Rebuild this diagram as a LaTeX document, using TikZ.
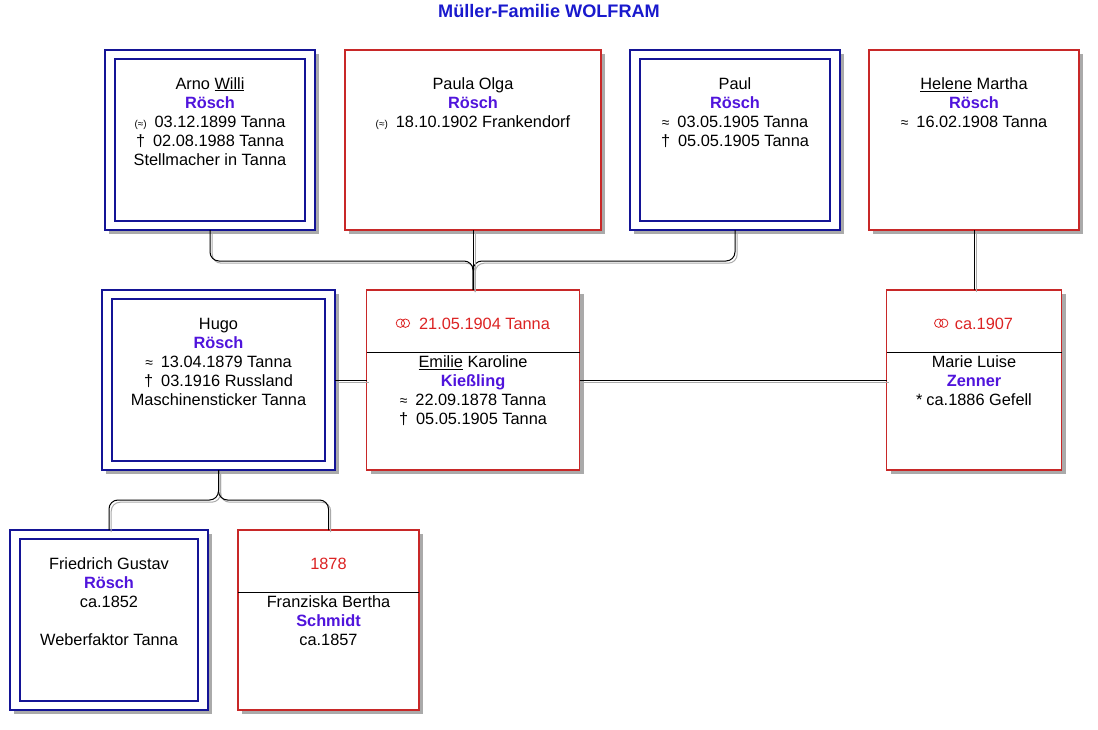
\documentclass[tikz,border=0pt]{standalone}
\usepackage{fontspec}
\setmainfont{Liberation Sans}
\usetikzlibrary{shadows}
\definecolor{boxblue}{RGB}{20,20,150}
\definecolor{boxred}{RGB}{200,40,40}
\definecolor{surname}{RGB}{80,20,220}
\definecolor{titleblue}{RGB}{25,25,205}
\definecolor{marred}{RGB}{220,35,35}
\definecolor{shadowgrey}{RGB}{170,170,170}
\newcommand{\sn}[1]{{\bfseries\color{surname}#1}}
\newcommand{\bap}{{\fontsize{14}{14}\selectfont ≈}\hspace{8bp}}
\newcommand{\dth}{†\hspace{8bp}}
\newcommand{\bth}{{\fontsize{10}{10}\selectfont(≈)}\hspace{8bp}}
\newcommand{\fs}{\rule{0pt}{15bp}}
\begin{document}
\begin{tikzpicture}[x=1bp,y=-1bp,
  box/.style={rectangle, draw, line width=1.2bp, fill=white, inner sep=0pt, outer sep=0pt,
    drop shadow={shadow xshift=4bp, shadow yshift=-4bp, fill=shadowgrey, opacity=1}},
  mbox/.style={box, draw=boxblue,
    path picture={\draw[boxblue, line width=1.2bp]
      ([shift={(10bp,-9bp)}]path picture bounding box.north west) rectangle
      ([shift={(-10bp,9bp)}]path picture bounding box.south east);}},
  fbox/.style={box, draw=boxred},
  txt/.style={anchor=north, align=center, inner sep=0pt, font=\fontsize{16.4}{19.1}\selectfont},
  conn/.style={draw=black, line width=1bp, rounded corners=9bp,
    preaction={draw=shadowgrey, line width=1bp, transform canvas={shift={(2.2bp,-2.2bp)}}}},
  divider/.style={draw=black, line width=1bp},
  wedrings/.pic={\draw[marred, line width=0.8bp] (0,0) circle (4.2bp) (5,0) circle (4.2bp);}
]
\useasboundingbox (0,0) rectangle (1098,730);

\node[font=\bfseries\fontsize{18.2}{20}\selectfont, text=titleblue, inner sep=0pt, anchor=base] (title) at (549,17.5) {Müller-Familie WOLFRAM};

% generation 1
\node[mbox, minimum width=210bp, minimum height=180bp] (arno) at (210,140) {};
\node[fbox, minimum width=256bp, minimum height=180bp] (paula) at (473,140) {};
\node[mbox, minimum width=210bp, minimum height=180bp] (paul) at (735,140) {};
\node[fbox, minimum width=210bp, minimum height=180bp] (helene) at (974,140) {};

% generation 2
\node[mbox, minimum width=233bp, minimum height=180bp] (hugo) at (218.5,380) {};
\node[fbox, minimum width=213bp, minimum height=180bp] (emilie) at (473,380) {};
\node[fbox, minimum width=175bp, minimum height=180bp] (marie) at (974,380) {};

% generation 3
\node[mbox, minimum width=198bp, minimum height=180bp] (friedrich) at (109,620) {};
\node[fbox, minimum width=181bp, minimum height=180bp] (franziska) at (328.5,620) {};

% dividers
\draw[divider] ([yshift=-62bp]emilie.north west) -- ([yshift=-62bp]emilie.north east);
\draw[divider] ([yshift=-62bp]marie.north west) -- ([yshift=-62bp]marie.north east);
\draw[divider] ([yshift=-62bp]franziska.north west) -- ([yshift=-62bp]franziska.north east);

% texts
\node[txt] (arnoT) at ([yshift=-24bp]arno.north) {\fs Arno \underline{Willi}\\ \sn{Rösch}\\ \bth 03.12.1899 Tanna\\ \dth 02.08.1988 Tanna\\ Stellmacher in Tanna};
\node[txt] (paulaT) at ([yshift=-24bp]paula.north) {\fs Paula Olga\\ \sn{Rösch}\\ \bth 18.10.1902 Frankendorf};
\node[txt] (paulT) at ([yshift=-24bp]paul.north) {\fs Paul\\ \sn{Rösch}\\ \bap 03.05.1905 Tanna\\ \dth 05.05.1905 Tanna};
\node[txt] (heleneT) at ([yshift=-24bp]helene.north) {\fs \underline{Helene} Martha\\ \sn{Rösch}\\ \bap 16.02.1908 Tanna};

\node[txt] (hugoT) at ([yshift=-24bp]hugo.north) {\fs Hugo\\ \sn{Rösch}\\ \bap 13.04.1879 Tanna\\ \dth 03.1916 Russland\\ Maschinensticker Tanna};
\node[txt, text=marred] (emilieM) at ([shift={(11.5bp,-24bp)}]emilie.north) {\fs 21.05.1904 Tanna};
\pic at ([shift={(-18.5bp,6bp)}]emilieM.base west) {wedrings};
\node[txt] (emilieT) at ([yshift=-62bp]emilie.north) {\fs \underline{Emilie} Karoline\\ \sn{Kießling}\\ \bap 22.09.1878 Tanna\\ \dth 05.05.1905 Tanna};
\node[txt, text=marred] (marieM) at ([shift={(10bp,-24bp)}]marie.north) {\fs ca.1907};
\pic at ([shift={(-16bp,6bp)}]marieM.base west) {wedrings};
\node[txt] (marieT) at ([yshift=-62bp]marie.north) {\fs Marie Luise\\ \sn{Zenner}\\ *\hspace{4bp}ca.1886 Gefell};

\node[txt] (friedrichT) at ([yshift=-24bp]friedrich.north) {\fs Friedrich Gustav\\ \sn{Rösch}\\ ca.1852\\ \mbox{}\\ Weberfaktor Tanna};
\node[txt, text=marred] (franziskaM) at ([yshift=-24bp]franziska.north) {\fs 1878};
\node[txt] (franziskaT) at ([yshift=-62bp]franziska.north) {\fs Franziska Bertha\\ \sn{Schmidt}\\ ca.1857};

% connectors
\coordinate (topbar) at (0,261);
\coordinate (kidbar) at (0,500);
\draw[conn] (arno.south) -- (arno.south |- topbar) -- (paula.south |- topbar) -- (emilie.north);
\draw[conn] (paul.south) -- (paul.south |- topbar) -- (paula.south |- topbar) -- (emilie.north);
\draw[conn] (paula.south) -- (emilie.north);
\draw[conn] (helene.south) -- (marie.north);
\draw[conn] (hugo.east) -- (emilie.west);
\draw[conn] (emilie.east) -- (marie.west);
\draw[conn] (hugo.south) -- (hugo.south |- kidbar) -- (friedrich.north |- kidbar) -- (friedrich.north);
\draw[conn] (hugo.south) -- (hugo.south |- kidbar) -- (franziska.north |- kidbar) -- (franziska.north);
\end{tikzpicture}
\end{document}
